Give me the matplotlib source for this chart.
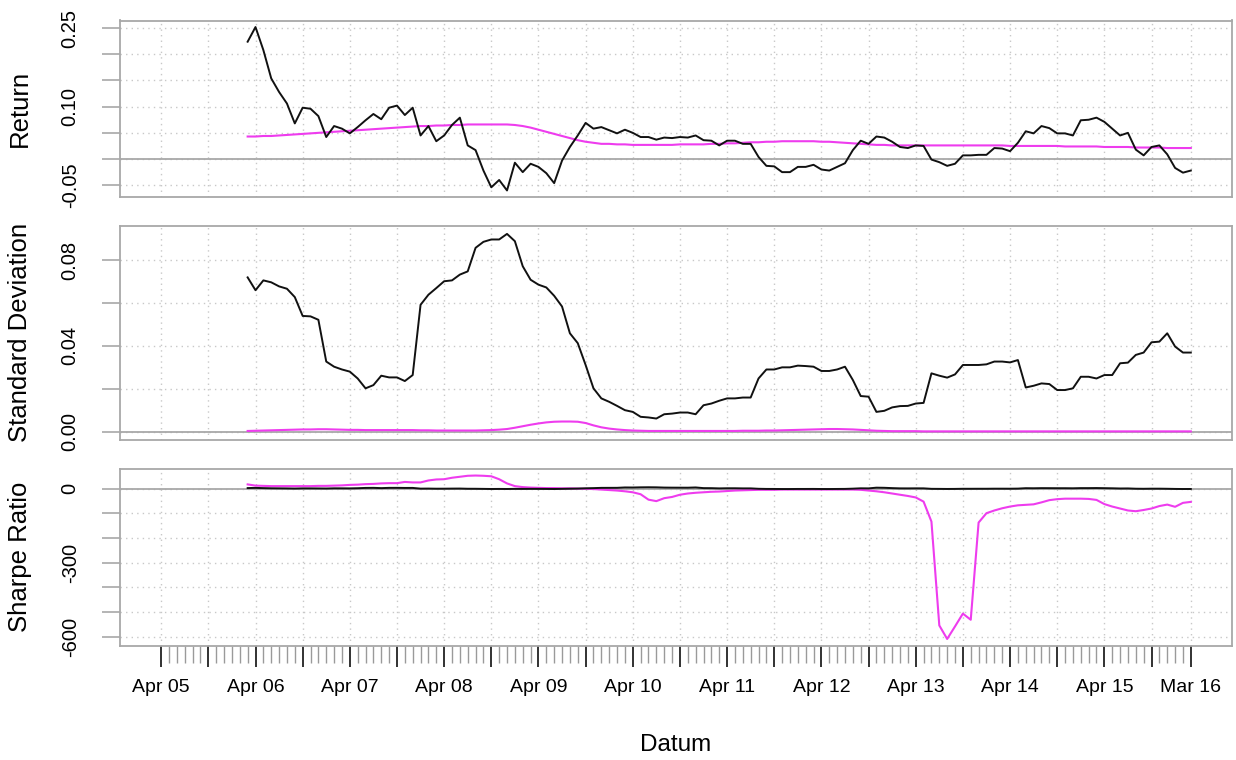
import numpy as np
import pandas as pd
import matplotlib
matplotlib.use("Agg")
import matplotlib.pyplot as plt

plt.rcParams["font.family"] = ["Liberation Sans", "DejaVu Sans"]

# --- dane: miesiace Apr 2005 - Mar 2016, okno 12 miesiecy -> pierwsza wartosc Mar 2006 ---
miesiace = pd.period_range("2005-04", "2016-03", freq="M")
pierwszy = 11

# Return (czarna = fundusz, magenta = benchmark)
return_fund = [
    0.224, 0.252, 0.208, 0.154, 0.128, 0.106, 0.068, 0.098, 0.096, 0.082,
    0.042, 0.063, 0.058, 0.049, 0.061, 0.074, 0.086, 0.076, 0.098, 0.102,
    0.084, 0.098, 0.045, 0.063, 0.034, 0.045, 0.065, 0.079, 0.026, 0.017,
    -0.022, -0.054, -0.040, -0.060, -0.007, -0.025, -0.009, -0.015, -0.027, -0.046,
    -0.003, 0.023, 0.045, 0.069, 0.058, 0.061, 0.055, 0.049, 0.056, 0.050,
    0.042, 0.042, 0.037, 0.041, 0.040, 0.042, 0.041, 0.045, 0.036, 0.035,
    0.026, 0.035, 0.035, 0.029, 0.029, 0.004, -0.013, -0.014, -0.025, -0.025,
    -0.015, -0.015, -0.011, -0.020, -0.022, -0.015, -0.008, 0.017, 0.035, 0.029,
    0.043, 0.041, 0.033, 0.023, 0.021, 0.026, 0.025, -0.001, -0.006, -0.013,
    -0.009, 0.007, 0.007, 0.008, 0.008, 0.021, 0.020, 0.015, 0.031, 0.053,
    0.049, 0.063, 0.059, 0.049, 0.049, 0.045, 0.074, 0.075, 0.079, 0.071,
    0.058, 0.045, 0.050, 0.018, 0.007, 0.023, 0.026, 0.009, -0.017, -0.026,
    -0.022,
]
return_bench = [
    0.043, 0.043, 0.044, 0.044, 0.045, 0.046, 0.047, 0.048, 0.049, 0.050,
    0.051, 0.052, 0.053, 0.054, 0.055, 0.056, 0.057, 0.058, 0.059, 0.060,
    0.061, 0.062, 0.063, 0.063, 0.064, 0.064, 0.065, 0.065, 0.066, 0.066,
    0.066, 0.066, 0.066, 0.066, 0.065, 0.063, 0.060, 0.056, 0.052, 0.048,
    0.044, 0.040, 0.036, 0.033, 0.031, 0.029, 0.029, 0.028, 0.028, 0.027,
    0.027, 0.027, 0.027, 0.027, 0.027, 0.028, 0.028, 0.028, 0.028, 0.029,
    0.029, 0.030, 0.030, 0.031, 0.032, 0.032, 0.033, 0.033, 0.034, 0.034,
    0.034, 0.034, 0.034, 0.033, 0.033, 0.032, 0.031, 0.030, 0.029, 0.028,
    0.027, 0.027, 0.026, 0.026, 0.026, 0.026, 0.026, 0.026, 0.026, 0.026,
    0.026, 0.026, 0.026, 0.026, 0.026, 0.026, 0.026, 0.025, 0.025, 0.025,
    0.025, 0.025, 0.025, 0.025, 0.024, 0.024, 0.024, 0.024, 0.024, 0.023,
    0.023, 0.023, 0.023, 0.022, 0.022, 0.022, 0.022, 0.021, 0.021, 0.021,
    0.021,
]

# Standard Deviation
sd_fund = [
    0.0720, 0.0660, 0.0706, 0.0697, 0.0678, 0.0667, 0.0628, 0.0540, 0.0538, 0.0522,
    0.0327, 0.0303, 0.0290, 0.0280, 0.0248, 0.0202, 0.0217, 0.0261, 0.0253, 0.0253,
    0.0236, 0.0264, 0.0592, 0.0639, 0.0670, 0.0702, 0.0706, 0.0733, 0.0748, 0.0858,
    0.0886, 0.0897, 0.0897, 0.0923, 0.0889, 0.0772, 0.0709, 0.0686, 0.0673, 0.0634,
    0.0584, 0.0459, 0.0413, 0.0311, 0.0202, 0.0155, 0.0139, 0.0120, 0.0100, 0.0092,
    0.0069, 0.0066, 0.0061, 0.0081, 0.0084, 0.0089, 0.0089, 0.0081, 0.0123, 0.0131,
    0.0144, 0.0155, 0.0155, 0.0159, 0.0159, 0.0248, 0.0290, 0.0290, 0.0300, 0.0300,
    0.0308, 0.0306, 0.0303, 0.0283, 0.0283, 0.0290, 0.0303, 0.0241, 0.0166, 0.0163,
    0.0092, 0.0097, 0.0113, 0.0119, 0.0120, 0.0131, 0.0134, 0.0272, 0.0261, 0.0252,
    0.0267, 0.0311, 0.0311, 0.0311, 0.0314, 0.0327, 0.0327, 0.0323, 0.0334, 0.0206,
    0.0214, 0.0225, 0.0222, 0.0194, 0.0194, 0.0202, 0.0256, 0.0256, 0.0248, 0.0264,
    0.0264, 0.0319, 0.0322, 0.0358, 0.0369, 0.0417, 0.0420, 0.0459, 0.0397, 0.0369,
    0.0369,
]
sd_bench = [
    0.0003, 0.0004, 0.0005, 0.0006, 0.0007, 0.0008, 0.0009, 0.0010, 0.0010, 0.0011,
    0.0011, 0.0010, 0.0009, 0.0008, 0.0008, 0.0007, 0.0007, 0.0007, 0.0007, 0.0007,
    0.0007, 0.0007, 0.0006, 0.0006, 0.0005, 0.0005, 0.0005, 0.0005, 0.0005, 0.0005,
    0.0006, 0.0007, 0.0009, 0.0012, 0.0018, 0.0025, 0.0032, 0.0038, 0.0043, 0.0046,
    0.0047, 0.0047, 0.0046, 0.0040, 0.0029, 0.0020, 0.0014, 0.0010, 0.0007, 0.0005,
    0.0004, 0.0003, 0.0003, 0.0003, 0.0003, 0.0003, 0.0003, 0.0003, 0.0003, 0.0003,
    0.0003, 0.0003, 0.0003, 0.0004, 0.0004, 0.0004, 0.0005, 0.0005, 0.0006, 0.0007,
    0.0008, 0.0009, 0.0010, 0.0011, 0.0012, 0.0012, 0.0011, 0.0010, 0.0008, 0.0006,
    0.0004, 0.0003, 0.0002, 0.0002, 0.0002, 0.0002, 0.0001, 0.0001, 0.0001, 0.0001,
    0.0001, 0.0001, 0.0001, 0.0001, 0.0001, 0.0001, 0.0001, 0.0001, 0.0001, 0.0001,
    0.0001, 0.0001, 0.0001, 0.0001, 0.0001, 0.0001, 0.0001, 0.0001, 0.0001, 0.0001,
    0.0001, 0.0001, 0.0001, 0.0001, 0.0001, 0.0001, 0.0001, 0.0001, 0.0001, 0.0001,
    0.0001,
]

# Sharpe Ratio
sharpe_fund = [
    3.1, 3.8, 2.9, 2.2, 1.9, 1.6, 1.1, 1.8, 1.8, 1.6,
    1.3, 2.1, 2.0, 1.8, 2.5, 3.7, 4.0, 2.9, 3.9, 4.0,
    3.6, 3.7, 0.8, 1.0, 0.5, 0.6, 0.9, 1.1, 0.3, 0.2,
    -0.2, -0.6, -0.4, -0.6, -0.1, -0.3, -0.1, -0.2, -0.4, -0.7,
    -0.1, 0.5, 1.1, 2.2, 2.9, 3.9, 4.0, 4.1, 5.6, 5.4,
    6.1, 6.4, 6.1, 5.1, 4.8, 4.7, 4.6, 5.6, 2.9, 2.7,
    1.8, 2.3, 2.3, 1.8, 1.8, 0.2, -0.4, -0.5, -0.8, -0.8,
    -0.5, -0.5, -0.4, -0.7, -0.8, -0.5, -0.3, 0.7, 2.1, 1.8,
    4.7, 4.2, 2.9, 1.9, 1.8, 2.0, 1.9, 0.0, -0.2, -0.5,
    -0.3, 0.2, 0.2, 0.3, 0.3, 0.6, 0.6, 0.5, 0.9, 2.6,
    2.3, 2.8, 2.7, 2.5, 2.5, 2.2, 2.9, 2.9, 3.2, 2.7,
    2.2, 1.4, 1.6, 0.5, 0.2, 0.6, 0.6, 0.2, -0.4, -0.7,
    -0.6,
]
sharpe_bench = [
    18, 13, 12, 11, 11, 11, 11, 11, 11, 12,
    12, 13, 14, 16, 17, 19, 20, 22, 23, 23,
    28, 26, 26, 34, 38, 39, 45, 49, 53, 54,
    53, 51, 39, 22, 11, 7, 5, 4, 3, 3,
    2, 2, 1, 0, -1, -3, -5, -7, -10, -14,
    -22, -44, -50, -38, -33, -24, -19, -16, -14, -12,
    -11, -9, -7, -6, -5, -4, -4, -4, -3, -3,
    -3, -3, -3, -3, -3, -3, -3, -3, -4, -7,
    -10, -14, -19, -24, -29, -35, -52, -133, -555, -610,
    -559, -507, -532, -137, -99, -88, -79, -72, -67, -65,
    -63, -55, -46, -42, -40, -40, -40, -41, -45, -62,
    -72, -80, -88, -91, -86, -80, -70, -64, -73, -57,
    -53,
]

# osie y: wszystkie ticki, opisane tylko co ktorys
ret_ticks = [-0.05, 0.0, 0.05, 0.10, 0.15, 0.20, 0.25]
ret_labels = ["-0.05", "", "", "0.10", "", "", "0.25"]
sd_ticks = [0.0, 0.02, 0.04, 0.06, 0.08]
sd_labels = ["0.00", "", "0.04", "", "0.08"]
sharpe_ticks = [-600, -500, -400, -300, -200, -100, 0]
sharpe_labels = ["-600", "", "", "-300", "", "", "0"]

# --- wykres ---
W, H = 1236, 760
fig = plt.figure(figsize=(W / 100, H / 100), dpi=100)

def px_axes(top, bottom, left=120, right=1232):
    return fig.add_axes([left / W, 1 - bottom / H, (right - left) / W, (bottom - top) / H])

ax1 = px_axes(20.5, 197)
ax2 = px_axes(226, 439.5)
ax3 = px_axes(469, 645.5)

n = len(miesiace)
x = np.arange(pierwszy, n)
major = list(range(0, n, 6)) + [n - 1]
major_labels = []
for i in major:
    if i % 12 == 0 or i == n - 1:
        major_labels.append(miesiace[i].strftime("%b %y"))
    else:
        major_labels.append("")

szary = "#a8a8a8"
magenta = "#ee3cee"

panele = [
    (ax1, return_fund, return_bench, ret_ticks, ret_labels, "Return"),
    (ax2, sd_fund, sd_bench, sd_ticks, sd_labels, "Standard Deviation"),
    (ax3, sharpe_fund, sharpe_bench, sharpe_ticks, sharpe_labels, "Sharpe Ratio"),
]

for ax, fund, bench, yt, yl, tytul in panele:
    ax.set_xticks(major)
    ax.grid(True, color="#c8c8c8", linestyle=(0, (1, 3)), linewidth=1.0)
    ax.axhline(0, color=szary, linewidth=1.3, zorder=1)
    ax.plot(x, bench, color=magenta, linewidth=1.5, zorder=3)
    ax.plot(x, fund, color="#111111", linewidth=1.4, zorder=4)
    ax.set_xlim(-0.04 * (n - 1), (n - 1) * 1.04)
    ax.margins(y=0.04)
    ax.set_yticks(yt)
    ax.set_yticklabels(yl, rotation=90, va="center", fontsize=14.5)
    ax.tick_params(axis="y", length=13, width=1.2, color=szary, pad=16)
    ax.tick_params(axis="x", which="both", length=0, labelbottom=False)
    for s in ax.spines.values():
        s.set_color(szary)
        s.set_linewidth(1.3)
    ax.set_axisbelow(True)
    box = ax.get_position()
    fig.text(20 / W, box.y0 + box.height / 2, tytul, rotation=90,
             ha="center", va="center", fontsize=18.5)

# dolna os: ticki co miesiac, opisy co rok
ax3.set_xticks(major)
ax3.set_xticklabels(major_labels, fontsize=14)
ax3.set_xticks(range(n), minor=True)
ax3.tick_params(axis="x", which="major", length=15, width=1.3, color="#222222",
                labelbottom=True, pad=9)
ax3.tick_params(axis="x", which="minor", length=12, width=1.0, color="#9a9a9a")

fig.text(676 / W, 1 - 745 / H, "Datum", ha="center", va="center", fontsize=17.5)

plt.savefig("out.png", dpi=100)
